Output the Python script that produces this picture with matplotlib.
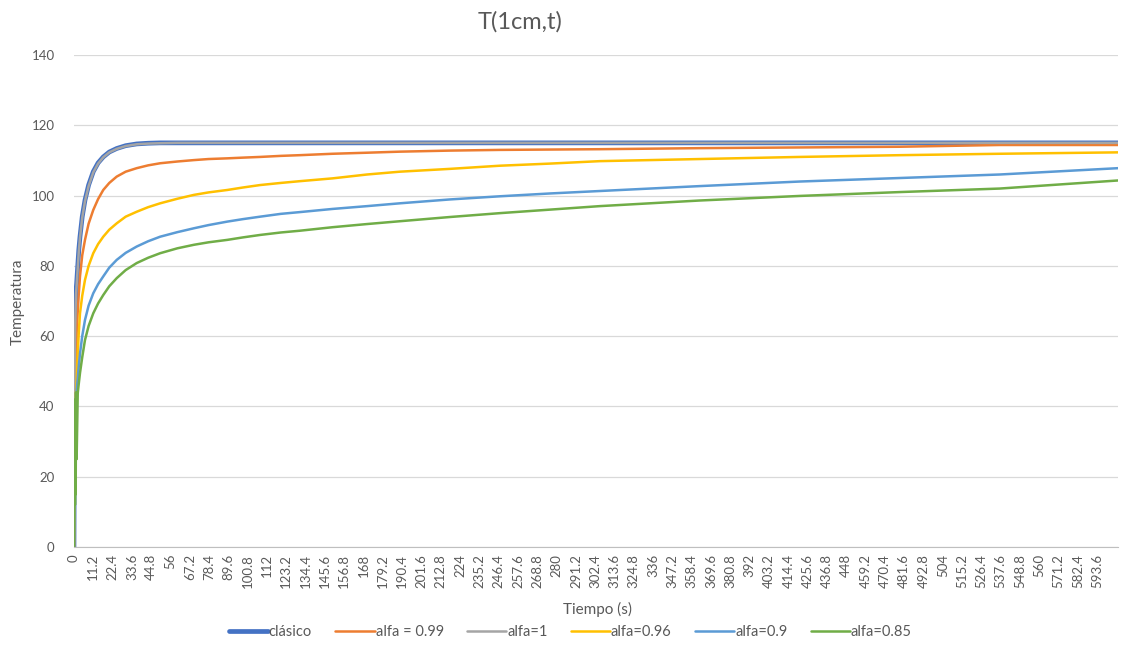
import numpy as np
import matplotlib.pyplot as plt

plt.rcParams['font.family'] = ['Lato', 'DejaVu Sans']

# sample times (s) and temperatures for each model
t = [0, 0.2, 0.4, 0.6, 0.8, 1.0, 1.2, 1.55, 2.2, 2.8, 3.5, 4.8, 6.4, 8.5, 11.2, 14, 17,
     20.5, 24.8, 30, 36.4, 43, 50,
     60, 69.6, 78, 89, 98, 108, 120, 131, 150, 170, 189, 218, 247, 276, 305, 363, 421,
     479, 537, 605.6]

clasico = [0, 30, 52, 61, 66, 70, 73, 75, 80, 84.5, 88.3, 94, 98.7, 103, 106.8, 109.3, 111,
           112.4, 113.4, 114.2, 114.7, 114.9, 115,
           115, 115, 115, 115, 115, 115, 115, 115, 115, 115, 115, 115, 115, 115, 115, 115,
           115, 115, 115, 115]
alfa_1 = [0, 29, 51, 60, 65, 69, 72, 74.5, 79.5, 84, 88, 93.7, 98.4, 102.7, 106.6, 109.1,
          110.9, 112.3, 113.3, 114.1, 114.6, 114.8, 114.9,
          115, 115, 115, 115, 115, 115, 115, 115, 115, 115, 115, 115, 115, 115, 115, 115,
          115, 115, 115, 115]
alfa_099 = [0, 20, 38, 30, 42, 46, 50, 61, 67, 72, 77, 83, 87.4, 92, 95.9, 99, 101.6,
            103.6, 105.4, 106.8, 107.8, 108.6, 109.2,
            109.7, 110.1, 110.4, 110.6, 110.8, 111, 111.3, 111.5, 111.9, 112.2, 112.5,
            112.8, 113, 113.1, 113.2, 113.5, 113.7, 113.9, 114.4, 114.4]
alfa_096 = [0, 18, 35, 25, 40, 38, 44, 46.7, 55, 61, 66.5, 71.5, 76, 80, 83.6, 86.2, 88.3,
            90.3, 92.1, 94, 95.4, 96.7, 97.8,
            99.1, 100.2, 100.9, 101.6, 102.3, 103, 103.6, 104.1, 104.9, 106, 106.8, 107.6,
            108.5, 109.1, 109.8, 110.4, 111, 111.5, 111.9, 112.3]
alfa_09 = [0, 15, 33, 20, 38, 30, 42, 44.7, 48, 51.5, 55, 60, 64.6, 68.7, 72.2, 74.8, 77,
           79.5, 81.7, 83.7, 85.5, 87, 88.3,
           89.6, 90.7, 91.6, 92.6, 93.3, 94, 94.8, 95.3, 96.2, 97, 97.8, 98.9, 99.8, 100.6,
           101.3, 102.7, 104, 105, 106, 107.8]
alfa_085 = [0, 10, 40, 12, 42, 15, 44, 25, 43.8, 46.5, 49.5, 54, 58.9, 62.9, 66.5, 69.3,
            71.7, 74.2, 76.5, 78.8, 80.8, 82.3, 83.6,
            85, 86, 86.7, 87.4, 88.1, 88.8, 89.5, 90, 91, 91.9, 92.7, 93.9, 95, 96, 97,
            98.6, 99.9, 101, 102, 104.3]

series = [
    ('clásico', clasico, '#4472C4', 3.4),
    ('alfa = 0.99', alfa_099, '#ED7D31', 1.8),
    ('alfa=1', alfa_1, '#A5A5A5', 1.8),
    ('alfa=0.96', alfa_096, '#FFC000', 1.8),
    ('alfa=0.9', alfa_09, '#5B9BD5', 1.8),
    ('alfa=0.85', alfa_085, '#70AD47', 1.8),
]

tick_step = 11.2
tick_vals = [round(tick_step * k, 1) for k in range(54)]
tick_labels = [f'{v:g}' for v in tick_vals]

fig = plt.figure(figsize=(11.36, 6.71), dpi=100)
ax = fig.add_axes([0.0651, 0.1848, 0.919, 0.7332])

for name, vals, col, lw in series:
    ax.plot(t, vals, color=col, lw=lw, label=name,
            solid_joinstyle='round', solid_capstyle='round')

ax.set_xlim(0, 605.6)
ax.set_ylim(0, 140)
ax.set_yticks(np.arange(0, 141, 20))
ax.set_xticks(tick_vals)
ax.set_xticklabels(tick_labels, rotation=90)
ax.tick_params(axis='both', length=0, labelsize=9.5, colors='#595959')
ax.tick_params(axis='x', pad=5)
ax.tick_params(axis='y', pad=14)
ax.grid(axis='y', color='#d9d9d9', lw=0.9)
ax.set_axisbelow(True)
for s in ['top', 'right', 'left']:
    ax.spines[s].set_visible(False)
ax.spines['bottom'].set_color('#bfbfbf')

fig.text(0.458, 0.968, 'T(1cm,t)', ha='center', va='center', fontsize=17, color='#595959')
fig.text(0.526, 0.092, 'Tiempo (s)', ha='center', va='center', fontsize=11, color='#595959')
fig.text(0.016, 0.55, 'Temperatura', ha='center', va='center', rotation=90, fontsize=11,
         color='#595959')

leg = fig.legend(loc='center', bbox_to_anchor=(0.502, 0.058), ncol=6, frameon=False,
                 fontsize=10.5, handlelength=2.7, handletextpad=0.05, columnspacing=1.6)
for txt in leg.get_texts():
    txt.set_color('#595959')

fig.savefig('out.png', dpi=100)
